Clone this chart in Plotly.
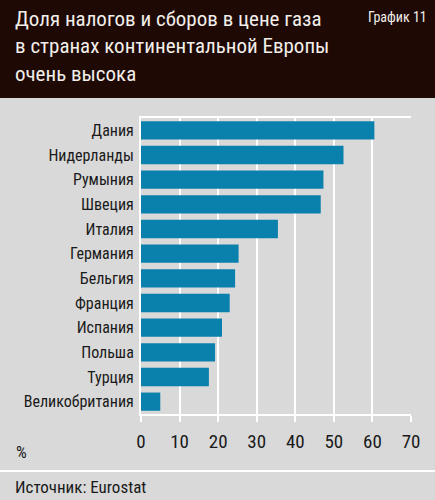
import plotly.graph_objects as go

countries = ["Дания", "Нидерланды", "Румыния", "Швеция", "Италия", "Германия",
             "Бельгия", "Франция", "Испания", "Польша", "Турция", "Великобритания"]
shares = [60.5, 52.5, 47.3, 46.6, 35.5, 25.3, 24.4, 23.0, 21.0, 19.2, 17.6, 5.0]
x_ticks = [0, 10, 20, 30, 40, 50, 60, 70]

W, H = 435, 500
L, R, T, B = 141, 24, 118, 86
PW, PH = W - L - R, H - T - B

def px(x):
    return (x - L) / PW

def py(y):
    return (H - B - y) / PH

FONT = "Roboto Condensed, DejaVu Sans Condensed, sans-serif"
BG = "#d9d9d9"
HEADER = "#1e0905"
BAR = "#0a80ad"
TXT = "#1a1a1a"

fig = go.Figure(go.Bar(
    x=shares, y=countries, orientation="h",
    marker=dict(color=BAR, line=dict(width=0)),
    width=0.74,
))

fig.update_layout(
    width=W, height=H,
    margin=dict(l=L, r=R, t=T, b=B, autoexpand=False),
    paper_bgcolor=BG, plot_bgcolor=BG,
    showlegend=False,
    font=dict(family=FONT, color=TXT),
    xaxis=dict(range=[0, 70], tickvals=x_ticks, showgrid=True, gridcolor="white",
               gridwidth=2, zeroline=False, showline=True, linecolor="white",
               linewidth=2, mirror=True, ticks="outside", ticklen=6,
               tickwidth=2, tickcolor="white", tickfont=dict(size=19, color=TXT),
               ticklabelstandoff=3, automargin=False, fixedrange=True),
    yaxis=dict(autorange="reversed", showgrid=False, zeroline=False,
               showline=True, linecolor="white", linewidth=2,
               ticks="", tickfont=dict(size=16, color=TXT),
               ticklabelstandoff=2, automargin=False, fixedrange=True),
    shapes=[
        dict(type="rect", xref="paper", yref="paper", x0=px(0), x1=px(W),
             y0=py(98), y1=py(0), fillcolor=HEADER, line=dict(width=0), layer="below"),
        dict(type="line", xref="paper", yref="paper", x0=px(0), x1=px(W),
             y0=py(471), y1=py(471), line=dict(color="white", width=2)),
    ],
    annotations=[
        dict(text="Доля налогов и сборов в цене газа<br>в странах континентальной Европы<br>очень высока",
             xref="paper", yref="paper", x=px(13), y=py(5), xanchor="left", yanchor="top",
             align="left", showarrow=False,
             font=dict(family=FONT, size=21, color="#f2eeea")),
        dict(text="График 11", xref="paper", yref="paper", x=px(429), y=py(7),
             xanchor="right", yanchor="top", showarrow=False,
             font=dict(family=FONT, size=14, color="#f2eeea")),
        dict(text="%", xref="paper", yref="paper", x=px(14), y=py(452),
             xanchor="left", yanchor="middle", showarrow=False,
             font=dict(family=FONT, size=17, color=TXT)),
        dict(text="Источник: Eurostat", xref="paper", yref="paper", x=px(13), y=py(487),
             xanchor="left", yanchor="middle", showarrow=False,
             font=dict(family=FONT, size=17, color=TXT)),
    ],
)

fig.write_html("out.html", config={"displayModeBar": False},
               post_script="document.body.style.margin='0';")
